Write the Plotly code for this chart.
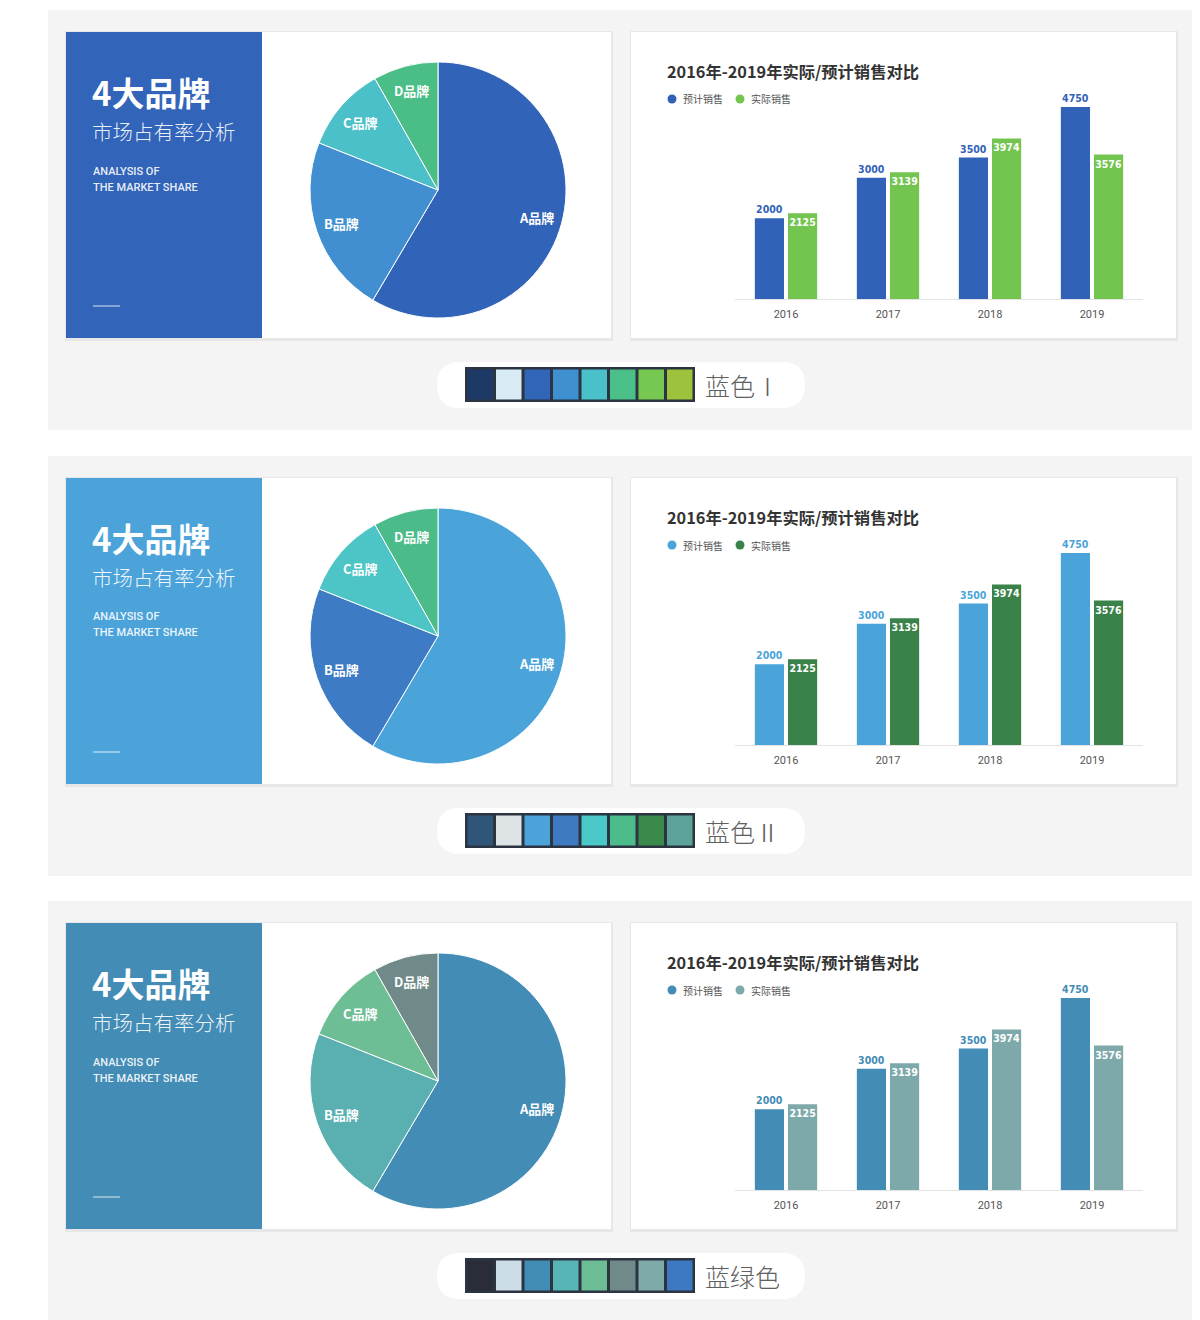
import math
import plotly.graph_objects as go

# page body has an 8px margin; the figure fills the rest of the 1200x1320 window
PAD = 8
W, H = 1200 - PAD, 1320 - PAD

# ---------------- data ----------------
brands = ["A品牌", "B品牌", "C品牌", "D品牌"]
share = [58.5, 22.5, 10.8, 8.2]

years = ["2016", "2017", "2018", "2019"]
forecast = [2000, 3000, 3500, 4750]
actual = [2125, 3139, 3974, 3576]

theme_names = ["蓝色Ⅰ", "蓝色Ⅱ", "蓝绿色"]
block_colors = ["#3264b9", "#4ba3da", "#438cb5"]
pie_colors = [
    ["#3163b8", "#418fd0", "#4cc0c8", "#4bbe87"],
    ["#4aa4da", "#3d7bc4", "#4dc4c6", "#4cbb8a"],
    ["#438cb5", "#5aafb0", "#6dbd95", "#6f8a88"],
]
bar_colors = [
    ["#3162b8", "#73c550"],
    ["#4aa4da", "#3a8249"],
    ["#438cb5", "#7ea9ab"],
]
swatches = [
    ["#1d3a66", "#d9ecf5", "#3165b8", "#3e90d0", "#4ac0c8", "#4bbf88", "#76c850", "#9dc23b"],
    ["#2f5579", "#dee3e5", "#4ba3da", "#3d7ac2", "#4bc9c8", "#4dbc8b", "#3a8a4c", "#5ca49b"],
    ["#2a2c3a", "#cddde7", "#428db5", "#58b5b5", "#6cbd95", "#6f8a88", "#7eaaaa", "#3d78c2"],
]
series_names = ["预计销售", "实际销售"]

offsets = [0, 446, 891]

CJK = "Noto Sans CJK SC"
NUM = "DejaVu Sans Condensed, Roboto Condensed, Arial Narrow, sans-serif"


def X(px):
    return (px - PAD) / W


def Y(py):
    return 1 - (py - PAD) / H


fig = go.Figure()
shapes = []
annotations = []


def rect(x0, y0, x1, y1, color, line=None):
    d = dict(type="rect", xref="paper", yref="paper",
             x0=X(x0), x1=X(x1), y0=Y(y1), y1=Y(y0),
             fillcolor=color, layer="below",
             line=dict(width=0) if line is None else line)
    shapes.append(d)


def rounded(x0, y0, x1, y1, r, color):
    def p(px, py):
        return f"{X(px)},{Y(py)}"
    path = (f"M {p(x0 + r, y0)} L {p(x1 - r, y0)} "
            f"Q {p(x1, y0)} {p(x1, y0 + r)} L {p(x1, y1 - r)} "
            f"Q {p(x1, y1)} {p(x1 - r, y1)} L {p(x0 + r, y1)} "
            f"Q {p(x0, y1)} {p(x0, y1 - r)} L {p(x0, y0 + r)} "
            f"Q {p(x0, y0)} {p(x0 + r, y0)} Z")
    shapes.append(dict(type="path", xref="paper", yref="paper", path=path,
                       fillcolor=color, line=dict(width=0), layer="below"))


def text(x, y, s, size, color, family=CJK, weight="normal", xanchor="left"):
    annotations.append(dict(x=X(x), y=Y(y), xref="paper", yref="paper",
                            text=s, showarrow=False, xanchor=xanchor, yanchor="middle",
                            font=dict(size=size, color=color, family=family, weight=weight)))


layout_axes = {}

for i, off in enumerate(offsets):
    # grey panel background
    rect(48, 10 + off, 1195, 430 + off if i < 2 else 1320, "#f4f4f4")
    # card shadows and cards
    rect(65, 31 + off, 613, 341 + off, "#e7e7e7")
    rect(66, 32 + off, 611, 338 + off, "#ffffff")
    rect(630, 31 + off, 1178, 341 + off, "#e7e7e7")
    rect(631, 32 + off, 1176, 338 + off, "#ffffff")
    # coloured block
    rect(66, 32 + off, 262, 338 + off, block_colors[i])

    # block texts
    text(90, 92 + off, "4大品牌", 33, "#ffffff", weight="bold")
    text(90, 131 + off, "市场占有率分析", 20.5, "rgba(255,255,255,0.92)", weight=300)
    text(91, 171 + off, "ANALYSIS OF", 11, "rgba(255,255,255,0.9)", family="Roboto", weight=500)
    text(91, 187 + off, "THE MARKET SHARE", 11, "rgba(255,255,255,0.9)", family="Roboto", weight=500)
    shapes.append(dict(type="line", xref="paper", yref="paper",
                       x0=X(93), x1=X(120), y0=Y(306 + off), y1=Y(306 + off),
                       line=dict(color="rgba(255,255,255,0.55)", width=1.5)))

    # pie
    cx, cy, r = 438, 190 + off, 128
    fig.add_trace(go.Pie(
        values=share, labels=brands, sort=False, direction="clockwise", rotation=0,
        marker=dict(colors=pie_colors[i], line=dict(color="#ffffff", width=1)),
        textinfo="none", hoverinfo="label+percent", showlegend=False,
        domain=dict(x=[X(cx - r), X(cx + r)], y=[Y(cy + r), Y(cy - r)]),
    ))
    total = sum(share)
    cum = 0.0
    for lab, v in zip(brands, share):
        mid = (cum + v / 2) / total * 2 * math.pi
        cum += v
        lx = cx + 0.8 * r * math.sin(mid)
        ly = cy - 0.8 * r * math.cos(mid)
        text(lx, ly, lab, 13, "#ffffff", weight="bold", xanchor="center")

    # bar chart
    sfx = "" if i == 0 else str(i + 1)
    xa, ya = "x" + sfx, "y" + sfx
    fig.add_trace(go.Bar(
        x=years, y=forecast, name=series_names[0], xaxis=xa, yaxis=ya,
        marker=dict(color=bar_colors[i][0], line=dict(width=0)),
        text=[str(v) for v in forecast], textposition="outside", textangle=0,
        constraintext="none",
        outsidetextfont=dict(color=bar_colors[i][0], size=10.5, family=NUM, weight="bold"),
        cliponaxis=False, showlegend=False,
    ))
    fig.add_trace(go.Bar(
        x=years, y=actual, name=series_names[1], xaxis=xa, yaxis=ya,
        marker=dict(color=bar_colors[i][1], line=dict(width=0)),
        text=[str(v) for v in actual], textposition="inside", insidetextanchor="end",
        textangle=0, constraintext="none",
        insidetextfont=dict(color="#ffffff", size=10.5, family=NUM, weight="bold"),
        cliponaxis=False, showlegend=False,
    ))
    layout_axes["xaxis" + sfx] = dict(
        domain=[X(735), X(1143)], anchor=ya, showgrid=False, zeroline=False,
        showline=True, linecolor="#e3e3e3", linewidth=1, ticks="",
        ticklabelstandoff=5,
        tickfont=dict(size=11, color="#555555", family="Roboto"),
        fixedrange=True,
    )
    layout_axes["yaxis" + sfx] = dict(
        domain=[Y(299 + off), Y(97 + off)], anchor=xa, range=[0, 5000],
        visible=False, fixedrange=True,
    )

    # chart title and legend
    text(665, 71 + off, "2016年-2019年实际/预计销售对比", 16.3, "#333333", weight="bold")
    for k, (lx, nm) in enumerate(zip([672, 740], series_names)):
        shapes.append(dict(type="circle", xref="paper", yref="paper",
                           x0=X(lx - 4.5), x1=X(lx + 4.5), y0=Y(99 + off + 4.5), y1=Y(99 + off - 4.5),
                           fillcolor=bar_colors[i][k], line=dict(width=0)))
        text(lx + 9, 99 + off, nm, 10, "#555555")

    # palette pill
    rounded(437, 362 + off, 805, 408 + off, 23, "#ffffff")
    sw0, sww = 466, 228 / len(swatches[i])
    rect(sw0 - 1, 367 + off, sw0 + 228 + 1, 402 + off, "#2b3440")
    for k, c in enumerate(swatches[i]):
        rect(sw0 + k * sww + 1.5, 369.5 + off, sw0 + (k + 1) * sww - 1.5, 399.5 + off, c)
    text(703, 385 + off, theme_names[i], 25, "#606060", weight=300)

fig.update_layout(
    width=W, height=H, margin=dict(l=0, r=0, t=0, b=0),
    paper_bgcolor="#ffffff", plot_bgcolor="rgba(0,0,0,0)",
    barmode="group", bargap=0.35, bargroupgap=0.12,
    shapes=shapes, annotations=annotations, showlegend=False,
    font=dict(family=CJK),
    **layout_axes,
)

fig.write_html("out.html")
